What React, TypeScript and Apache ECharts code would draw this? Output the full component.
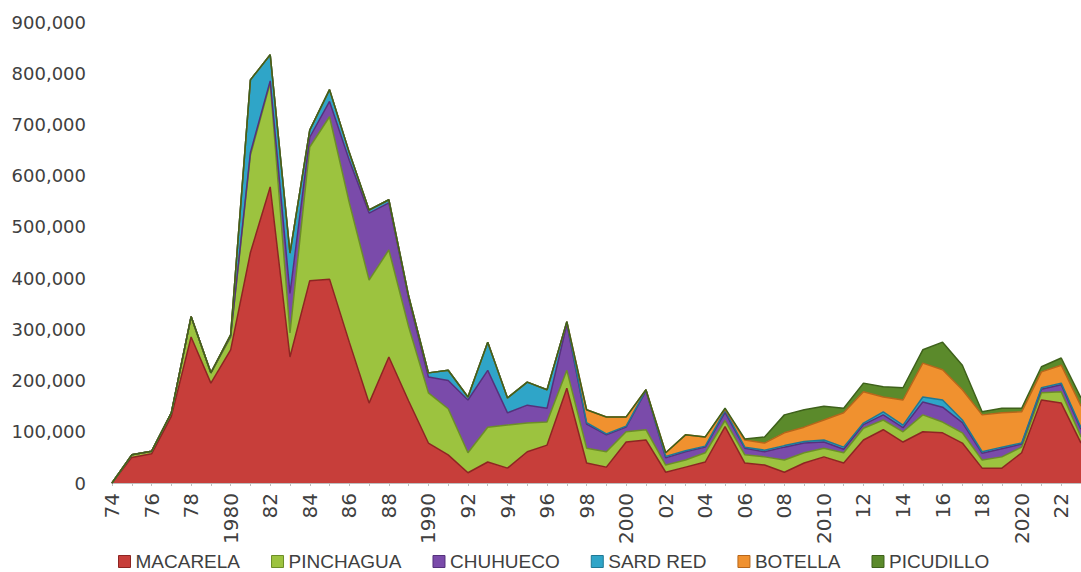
import React, { useEffect, useRef } from "react";
import * as echarts from "echarts";

const years = [
  "1974", "1975", "1976", "1977", "1978", "1979", "1980", "1981", "1982", "1983",
  "1984", "1985", "1986", "1987", "1988", "1989", "1990", "1991", "1992", "1993",
  "1994", "1995", "1996", "1997", "1998", "1999", "2000", "2001", "2002", "2003",
  "2004", "2005", "2006", "2007", "2008", "2009", "2010", "2011", "2012", "2013",
  "2014", "2015", "2016", "2017", "2018", "2019", "2020", "2021", "2022", "2023",
];

const macarela = [
  0, 50000, 57000, 130000, 285000, 195000, 260000, 450000, 578000, 246000,
  395000, 398000, 275000, 156000, 246000, 160000, 78000, 55000, 20000, 41000,
  29000, 61000, 74000, 185000, 39000, 31000, 80000, 84000, 21000, 31000,
  41000, 110000, 39000, 35000, 21000, 39000, 51000, 39000, 84000, 104000,
  80000, 100000, 98000, 78000, 29000, 29000, 59000, 162000, 156000, 78000,
];
const pinchagua = [
  0, 5000, 5000, 7000, 40000, 20000, 25000, 190000, 203000, 47000,
  261000, 317000, 272000, 240000, 209000, 145000, 98000, 90000, 39000, 68000,
  84000, 56000, 45000, 35000, 29000, 30000, 20000, 20000, 14000, 14000,
  18000, 12000, 16000, 16000, 24000, 20000, 17000, 20000, 23000, 19000,
  20000, 33000, 21000, 20000, 16000, 22000, 11000, 14000, 22000, 12000,
];
const chuhueco = [
  0, 0, 0, 0, 0, 0, 2000, 5000, 4000, 77000,
  19000, 30000, 83000, 131000, 92000, 55000, 31000, 55000, 103000, 111000,
  24000, 35000, 27000, 90000, 47000, 33000, 9000, 76000, 14000, 16000,
  11000, 16000, 13000, 10000, 25000, 19000, 12000, 7000, 7000, 10000,
  8000, 25000, 29000, 20000, 13000, 16000, 6000, 7000, 14000, 15000,
];
const sardRed = [
  0, 0, 0, 0, 0, 0, 2000, 142000, 51000, 79000,
  14000, 23000, 15000, 6000, 6000, 5000, 8000, 20000, 6000, 55000,
  29000, 45000, 36000, 5000, 3000, 2000, 2000, 2000, 3000, 2000,
  2000, 4000, 2000, 3000, 3000, 3000, 4000, 4000, 3000, 6000,
  5000, 10000, 14000, 5000, 3000, 3000, 2000, 3000, 3000, 3000,
];
const botella = [
  0, 0, 0, 0, 0, 0, 0, 0, 0, 0,
  0, 0, 0, 0, 0, 0, 0, 0, 0, 0,
  0, 0, 0, 0, 25000, 33000, 18000, 0, 7000, 31000,
  18000, 2000, 14000, 14000, 25000, 28000, 39000, 67000, 61000, 29000,
  49000, 66000, 59000, 59000, 72000, 67000, 61000, 31000, 35000, 42000,
];
const picudillo = [
  0, 0, 0, 0, 0, 0, 0, 0, 0, 0,
  0, 0, 0, 0, 0, 0, 0, 0, 0, 0,
  0, 0, 0, 0, 0, 0, 0, 0, 0, 0,
  0, 2000, 2000, 12000, 35000, 34000, 27000, 9000, 17000, 20000,
  24000, 26000, 54000, 48000, 6000, 9000, 7000, 10000, 14000, 16000,
];

const seriesNames = ["MACARELA", "PINCHAGUA", "CHUHUECO", "SARD RED", "BOTELLA", "PICUDILLO"];
const seriesData = [macarela, pinchagua, chuhueco, sardRed, botella, picudillo];
const fillColors = ["#C73E3A", "#9CC33F", "#7A4BAA", "#2FA5C8", "#F0912F", "#5B8A2B"];
const lineColors = ["#8E2522", "#6C8E27", "#55317C", "#1F7894", "#B7661A", "#3E611B"];

export default function App() {
  const ref = useRef<HTMLDivElement>(null);
  useEffect(() => {
    if (!ref.current) return;
    const chart = echarts.init(ref.current, null, { renderer: "svg" });
    chart.setOption({
      animation: false,
      backgroundColor: "#ffffff",
      grid: { left: 112, right: -4, top: 22, bottom: 89, containLabel: false },
      legend: {
        data: seriesNames.map((n, i) => ({ name: n, itemStyle: { color: fillColors[i], borderColor: lineColors[i], borderWidth: 1 } })),
        left: 118,
        top: 552,
        padding: 0,
        itemGap: 31,
        itemWidth: 12,
        itemHeight: 12,
        icon: "rect",
        textStyle: { fontFamily: "'Liberation Sans', Arial, sans-serif", fontSize: 19, color: "#404040" },
      },
      xAxis: {
        type: "category",
        data: years,
        boundaryGap: false,
        axisLine: { show: true, lineStyle: { color: "#BFBFBF", width: 2 } },
        axisTick: { show: true, interval: 0, length: 3, lineStyle: { color: "#BFBFBF" } },
        axisLabel: {
          interval: 1,
          rotate: 90,
          margin: 10,
          fontFamily: "'DejaVu Sans', sans-serif",
          fontSize: 20,
          color: "#404040",
          formatter: (v: string) => (Number(v) % 10 === 0 ? v : v.slice(2)),
        },
      },
      yAxis: {
        type: "value",
        min: 0,
        max: 900000,
        interval: 100000,
        splitLine: { show: false },
        axisLine: { show: false },
        axisTick: { show: false },
        axisLabel: {
          margin: 26,
          fontFamily: "'DejaVu Sans', sans-serif",
          fontSize: 18,
          color: "#404040",
          formatter: (v: number) => v.toLocaleString("en-US"),
        },
      },
      series: seriesNames.map((name, i) => ({
        name,
        type: "line",
        stack: "total",
        data: seriesData[i],
        symbol: "none",
        lineStyle: { color: lineColors[i], width: 1.5 },
        itemStyle: { color: fillColors[i] },
        areaStyle: { color: fillColors[i], opacity: 1 },
      })),
    });
    return () => chart.dispose();
  }, []);
  return <div ref={ref} style={{ position: "fixed", left: 0, top: 0, width: 1081, height: 572 }} />;
}
